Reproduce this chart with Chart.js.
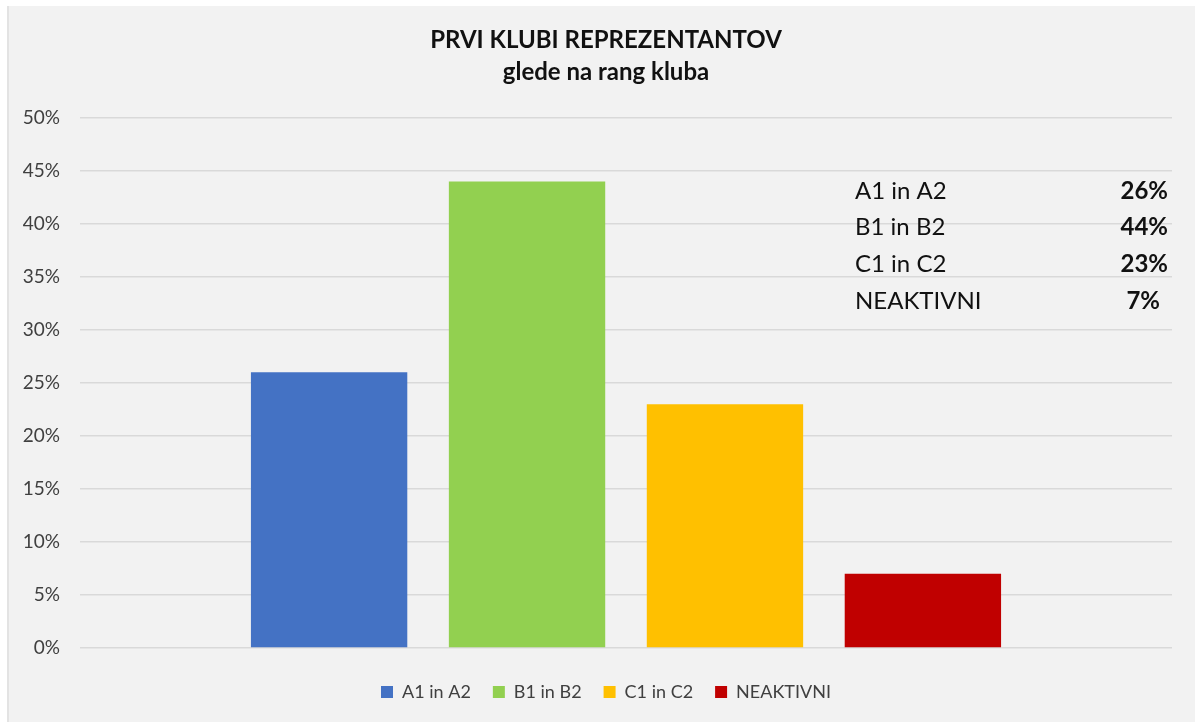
<!DOCTYPE html>
<html>
<head>
<meta charset="utf-8">
<script src="https://cdn.jsdelivr.net/npm/chart.js@4"></script>
<style>
  html, body { margin: 0; padding: 0; background: #fff; }
  #wrap { width: 1195px; height: 722px; position: relative; }
</style>
</head>
<body>
<div id="wrap"><canvas id="chart" width="1195" height="722"></canvas></div>
<script>
// data
const categories = ['A1 in A2', 'B1 in B2', 'C1 in C2', 'NEAKTIVNI'];
const values = [26, 44, 23, 7];
const colors = ['#4472c4', '#92d050', '#ffc000', '#c00000'];
const yTicks = [0, 5, 10, 15, 20, 25, 30, 35, 40, 45, 50];
const titleLines = ['PRVI KLUBI REPREZENTANTOV', 'glede na rang kluba'];

const FONT = 'Lato, "Open Sans", sans-serif';

// grey panel behind the chart, like the exported Excel chart
const panel = {
    id: 'panel',
    beforeDraw(chart) {
        const ctx = chart.ctx;
        ctx.save();
        ctx.fillStyle = '#f2f2f2';
        ctx.fillRect(8, 6, chart.width - 8, chart.height - 6);
        ctx.fillStyle = '#e3e3e3';
        ctx.fillRect(7, 6, 2, chart.height - 6);
        ctx.restore();
    }
};

// small value table in the upper right corner
const valueTable = {
    id: 'valueTable',
    afterDraw(chart) {
        const ctx = chart.ctx;
        ctx.save();
        ctx.fillStyle = '#111';
        ctx.textBaseline = 'middle';
        categories.forEach((c, i) => {
            const y = 191 + i * 36.7;
            ctx.font = '24px ' + FONT;
            ctx.textAlign = 'left';
            ctx.fillText(c, 855, y);
            ctx.font = 'bold 24px ' + FONT;
            ctx.textAlign = 'right';
            ctx.fillText(values[i] + '%', i === 3 ? 1160 : 1168, y);
        });
        ctx.restore();
    }
};

const ctx = document.getElementById('chart').getContext('2d');
new Chart(ctx, {
    type: 'bar',
    data: {
        labels: [''],
        datasets: categories.map((c, i) => ({
            label: c,
            data: [values[i]],
            backgroundColor: colors[i],
            borderWidth: 0
        }))
    },
    options: {
        responsive: false,
        animation: false,
        categoryPercentage: 0.725,
        barPercentage: 0.79,
        // title and legend sit a bit right of centre in the original
        layout: { padding: { left: 0, right: -17, top: 0, bottom: 11 } },
        scales: {
            x: {
                display: true,
                grid: { display: false },
                border: { display: false },
                ticks: { display: false },
                afterFit(scale) { scale.height = 13; }
            },
            y: {
                min: 0,
                max: 50,
                afterBuildTicks(scale) {
                    scale.ticks = yTicks.map(v => ({ value: v }));
                },
                afterFit(scale) { scale.width = 80; },
                border: { display: false },
                grid: { color: '#d9d9d9', lineWidth: 1.5, drawTicks: false },
                ticks: {
                    padding: 20,
                    color: '#404040',
                    font: { family: FONT, size: 19 },
                    callback: v => v + '%'
                }
            },
            // empty spacer on the right
            yRight: {
                position: 'right',
                display: true,
                grid: { display: false },
                border: { display: false },
                ticks: { display: false },
                afterFit(scale) { scale.width = 40; }
            }
        },
        plugins: {
            title: {
                display: true,
                text: titleLines,
                color: '#111',
                font: { family: FONT, size: 24, weight: 'bold', lineHeight: 1.33 },
                padding: { top: 24, bottom: 30 }
            },
            legend: {
                position: 'bottom',
                labels: {
                    boxWidth: 12,
                    boxHeight: 12,
                    padding: 22,
                    color: '#404040',
                    font: { family: FONT, size: 18 }
                }
            },
            tooltip: { enabled: false }
        }
    },
    plugins: [panel, valueTable]
});
</script>
</body>
</html>
